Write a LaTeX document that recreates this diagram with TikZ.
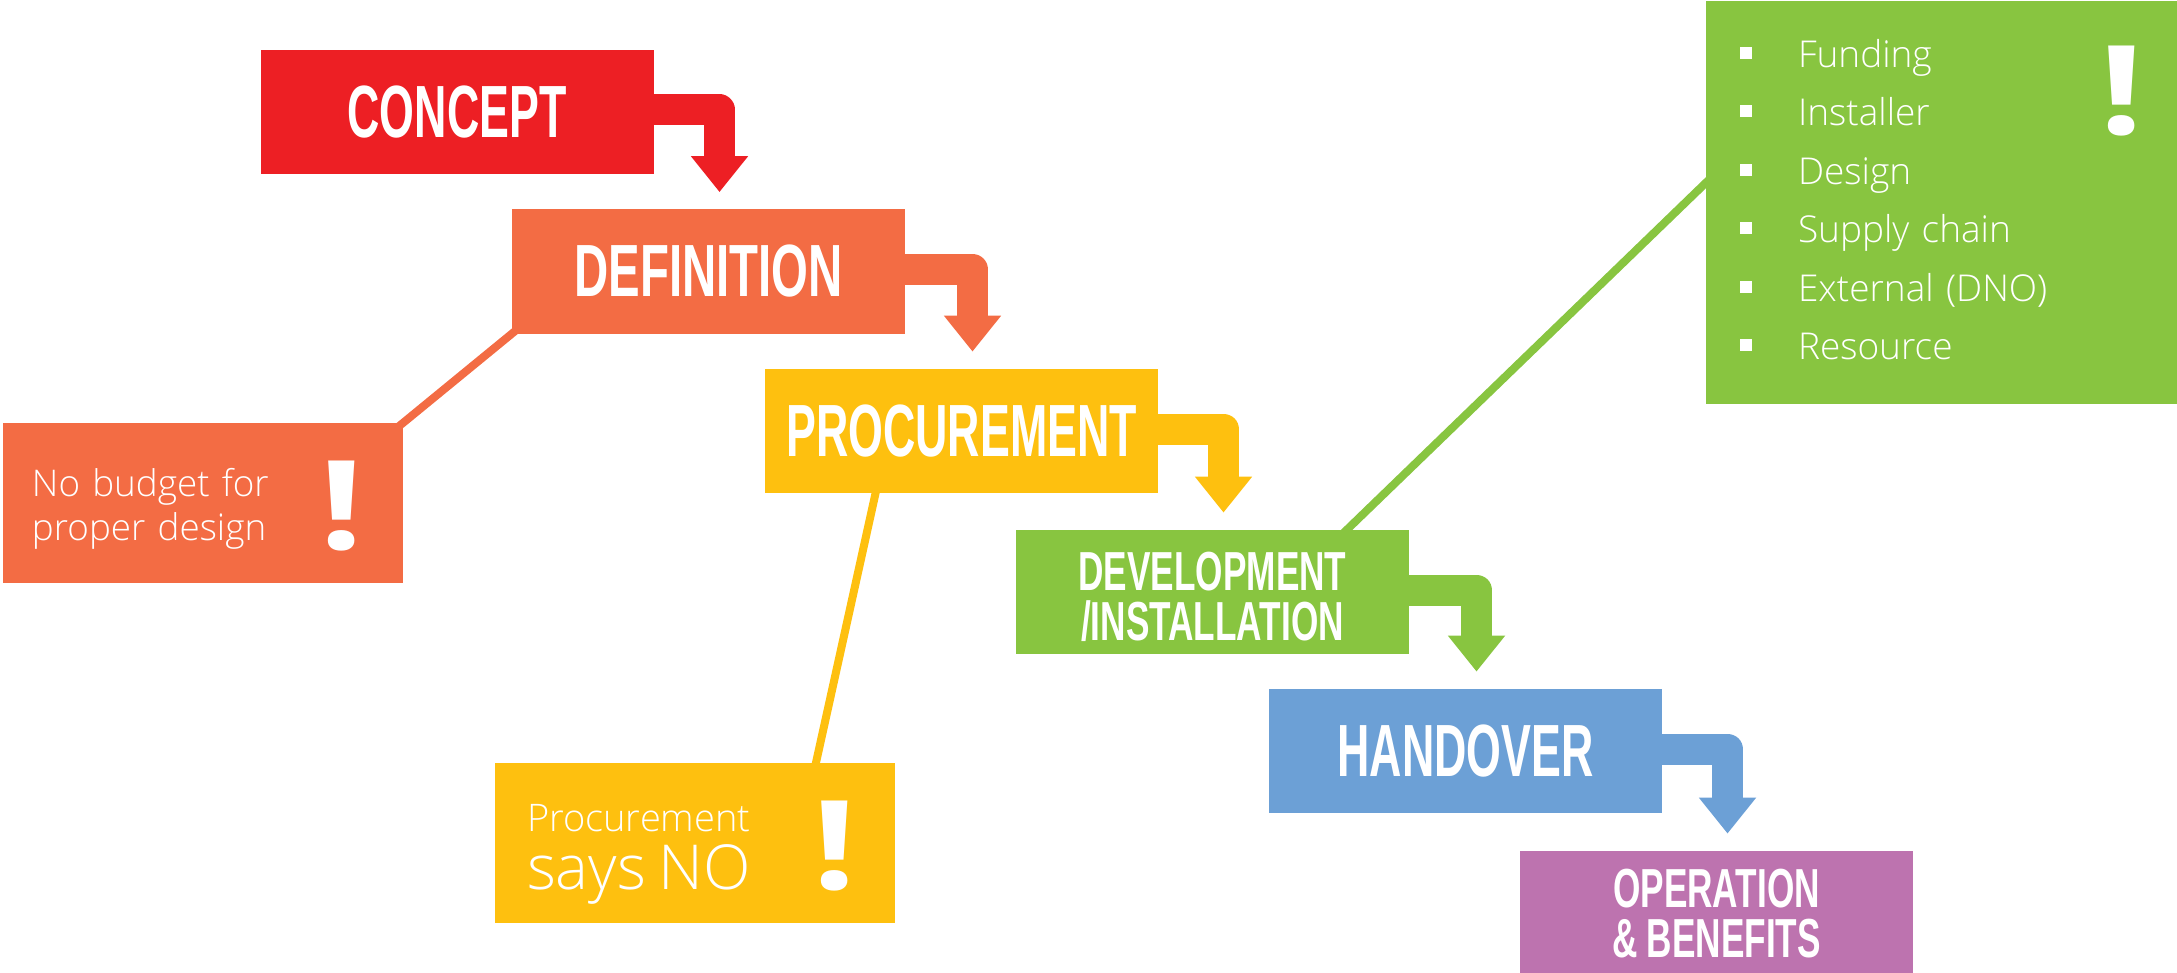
\documentclass[tikz,border=0pt]{standalone}
\usepackage{fontspec}
\usetikzlibrary{arrows.meta,backgrounds}
\setmainfont{Open Sans Light}
\newfontfamily\headfont[FakeStretch=0.605]{Liberation Sans Bold}
\newfontfamily\headwide[FakeStretch=0.64]{Liberation Sans Bold}
\newfontfamily\bangfont[FakeStretch=1.25]{Open Sans}
\definecolor{conceptred}{HTML}{ED1F24}
\definecolor{defineorange}{HTML}{F36C44}
\definecolor{procureyellow}{HTML}{FEC00F}
\definecolor{installgreen}{HTML}{88C540}
\definecolor{handoverblue}{HTML}{6CA0D6}
\definecolor{operatepurple}{HTML}{BD73AF}
\tikzset{
  stagebox/.style={inner sep=0pt,minimum width=196.5pt,minimum height=62pt,text=white,align=center,font=\headfont\fontsize{37}{37}\selectfont},
  stagesmall/.style={stagebox,font=\headwide\fontsize{27.5}{25}\selectfont},
  riskbox/.style={inner xsep=14.5pt,inner ysep=0pt,minimum height=80pt,text width=171pt,text=white,align=left,font=\fontsize{18.4}{22}\selectfont},
  bang/.style={text=white,inner sep=0pt,font=\bangfont\bfseries\fontsize{62}{62}\selectfont},
  flow/.style={line width=15.5pt,line join=round,shorten >=8.5pt,-{Triangle[width=27.5pt,length=18pt]}},
  tie/.style={line width=4pt,shorten >=-3pt,shorten <=-3pt}
}
\begin{document}
\begin{tikzpicture}[x=0.5pt,y=-0.5pt]
  \useasboundingbox (0,0) rectangle (2177,973);
  \draw
    (457,112) node[stagebox,fill=conceptred] (concept){CONCEPT}
    (708.5,271.5) node[stagebox,fill=defineorange,font=\headwide\fontsize{37}{37}\selectfont] (definition){DEFINITION}
    (961.5,431) node[stagebox,fill=procureyellow] (procurement){PROCUREMENT}
    (1212.5,592) node[stagesmall,fill=installgreen] (development){\rule{0pt}{24pt}DEVELOPMENT\\/INSTALLATION}
    (1465.5,751) node[stagebox,fill=handoverblue] (handover){HANDOVER}
    (1716.5,912) node[stagesmall,fill=operatepurple,minimum height=61pt] (operation){\rule{0pt}{21pt}OPERATION\\\&\,BENEFITS};
  \draw
    (203,503) node[riskbox,fill=defineorange] (budget){\rule{0pt}{20pt}No budget for\\proper design}
    (695,843) node[riskbox,fill=procureyellow,inner xsep=16pt,text width=168pt,font=\fontsize{19}{29}\selectfont] (says){\rule{0pt}{24.5pt}Procurement\\{\fontsize{31}{29}\selectfont says NO}}
    (1941.5,202.5) node[riskbox,fill=installgreen,inner xsep=17pt,text width=201.5pt,minimum height=201.5pt,font=\fontsize{18.5}{29.25}\selectfont] (risks){%
      \rule[4.4pt]{6pt}{6pt}\hspace{23pt}Funding\\
      \rule[4.4pt]{6pt}{6pt}\hspace{23pt}Installer\\
      \rule[4.4pt]{6pt}{6pt}\hspace{23pt}Design\\
      \rule[4.4pt]{6pt}{6pt}\hspace{23pt}Supply chain\\
      \rule[4.4pt]{6pt}{6pt}\hspace{23pt}External (DNO)\\
      \rule[4.4pt]{6pt}{6pt}\hspace{23pt}Resource\rule[-3pt]{0pt}{3pt}};
  \draw
    (342,506) node[bang] (budgetbang){!}
    (834.5,846) node[bang] (saysbang){!}
    (2122,91) node[bang] (risksbang){!};
  \begin{scope}[flow]
    \draw[conceptred] ([yshift=1pt]concept.east) -| ([xshift=5.5pt]definition.north);
    \draw[defineorange] ([yshift=1pt]definition.east) -| ([xshift=5.5pt]procurement.north);
    \draw[procureyellow] ([yshift=1pt]procurement.east) -| ([xshift=5.5pt]development.north);
    \draw[installgreen] ([yshift=1pt]development.east) -| ([xshift=5.5pt]handover.north);
    \draw[handoverblue] ([yshift=1pt]handover.east) -| ([xshift=5.5pt]operation.north);
  \end{scope}
  \begin{scope}[on background layer]
    \draw[tie,defineorange] (definition.south west) to (budget.north east);
    \draw[tie,procureyellow] ([xshift=-43pt]procurement.south) to ([xshift=60.5pt]says.north);
    \draw[tie,installgreen] ([xshift=67.25pt]development.north) to ([yshift=9.75pt]risks.west);
  \end{scope}
\end{tikzpicture}
\end{document}
